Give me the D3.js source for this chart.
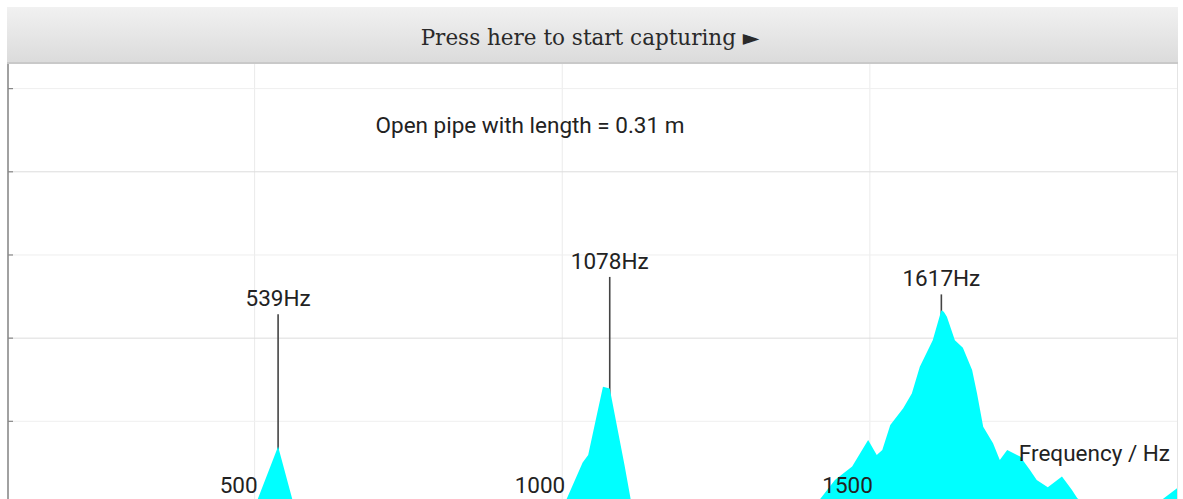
<!DOCTYPE html>
<html>
<head>
<meta charset="utf-8">
<script src="https://cdn.jsdelivr.net/npm/d3@7"></script>
<style>
    html, body { margin: 0; padding: 0; background: #fff; overflow: hidden; }
    svg { display: block; }
    .grid-minor line { stroke: #efefef; stroke-width: 1; }
    .grid-major line { stroke: #dcdcdc; stroke-width: 1; }
    .grid-x line { stroke: #ebebeb; stroke-width: 1; }
    .grid-minor path, .grid-major path, .grid-x path { display: none; }
    .label { font-family: Roboto, sans-serif; fill: #222; }
</style>
</head>
<body>
<svg id="simContainer" width="1183" height="499"></svg>
<script>
/*    ========    SETTINGS    =========    */

var svg = d3.select('#simContainer');
var width = 1183;
var height = 499;

var F_RANGE = [100, 2000];   // frequency axis [Hz]
var A_RANGE = [0, 5.29];     // amplitude, arbitrary units

var TITLE = "Open pipe with length = 0.31 m";
var BUTTON_TEXT = "Press here to start capturing \u25BA";
var X_LABEL = "Frequency / Hz";

var FONT_SIZE = "22.5px";

var xTicks = [500, 1000, 1500];
var yMinorTicks = [1, 3, 5];
var yMajorTicks = [2, 4];

// spectrum
var specFreq = [100, 490, 506, 539, 562, 575, 995, 1008, 1034, 1043, 1057, 1067, 1078,
    1091, 1102, 1112, 1125, 1405, 1420, 1444, 1472, 1498, 1512, 1521, 1534, 1555,
    1569, 1582, 1603, 1617, 1621, 1626, 1639, 1652, 1667, 1675, 1685, 1701, 1712,
    1724, 1745, 1761, 1772, 1790, 1813, 1829, 1838, 1850, 1970, 1977, 2000];
var specAmp = [0, 0, 0.06, 0.69, 0.06, 0, 0, 0.06, 0.5, 0.59, 1.07, 1.41, 1.39,
    0.89, 0.47, 0.06, 0, 0, 0.06, 0.29, 0.45, 0.77, 0.59, 0.65, 0.95, 1.15,
    1.33, 1.65, 1.97, 2.33, 2.31, 2.25, 1.97, 1.88, 1.61, 1.33, 0.93, 0.73, 0.53,
    0.65, 0.57, 0.41, 0.29, 0.2, 0.33, 0.17, 0.07, 0, 0, 0.06, 0.19];

// detected peaks and their held maxima
var peakFreq = [539, 1078, 1617];
var peakHold = [2.28, 2.73, 2.52];

/*    ========    SCALES    =========    */

var PLOT = {left: 8, right: 1177, top: 64};

var scale_x = d3.scaleLinear().domain(F_RANGE).range([PLOT.left, PLOT.right]);
var scale_y = d3.scaleLinear().domain(A_RANGE).range([504, PLOT.top]);

var data = specFreq.map(function(f, i) { return {f: f, a: specAmp[i]}; });

/*    ========    DEFS    =========    */

var defs = svg.append("defs");
var grad = defs.append("linearGradient")
    .attr("id", "btnGrad")
    .attr("x1", 0).attr("y1", 0).attr("x2", 0).attr("y2", 1);
grad.append("stop").attr("offset", "0%").attr("stop-color", "#f1f1f1");
grad.append("stop").attr("offset", "100%").attr("stop-color", "#dbdbdb");

defs.append("clipPath")
    .attr("id", "mask")
    .append("rect")
    .attr("x", PLOT.left)
    .attr("y", PLOT.top)
    .attr("width", PLOT.right - PLOT.left)
    .attr("height", height - PLOT.top);

/*    ========    GRID    =========    */

var plots = svg.append("g").attr("id", "plots").attr("clip-path", "url(#mask)");

plots.append("g")
    .attr("class", "grid-x")
    .attr("transform", "translate(0," + height + ")")
    .call(d3.axisBottom(scale_x).tickValues(xTicks).tickSize(-height).tickFormat(""));

plots.append("g")
    .attr("class", "grid-minor")
    .attr("transform", "translate(" + PLOT.left + ",0)")
    .call(d3.axisRight(scale_y).tickValues(yMinorTicks).tickSize(width).tickFormat(""));

plots.append("g")
    .attr("class", "grid-major")
    .attr("transform", "translate(" + PLOT.left + ",0)")
    .call(d3.axisRight(scale_y).tickValues(yMajorTicks).tickSize(width).tickFormat(""));

// right border
svg.append("line")
    .attr("x1", PLOT.right + 0.5).attr("x2", PLOT.right + 0.5)
    .attr("y1", PLOT.top).attr("y2", height)
    .attr("stroke", "#e4e4e4");

/*    ========    SPECTRUM    =========    */

var area = d3.area()
    .x(function(d) { return scale_x(d.f); })
    .y0(scale_y(0))
    .y1(function(d) { return scale_y(d.a); });

// peak hold lines
var amp = d3.scaleLinear().domain(specFreq).range(specAmp);
peakFreq.forEach(function(f, i) {
    plots.append("line")
        .attr("x1", scale_x(f)).attr("x2", scale_x(f))
        .attr("y1", scale_y(peakHold[i]))
        .attr("y2", scale_y(amp(f)) + 8)
        .attr("stroke", "#444")
        .attr("stroke-width", 1.6);
});

plots.append("path")
    .datum(data)
    .attr("fill", "#00ffff")
    .attr("d", area);

peakFreq.forEach(function(f, i) {
    svg.append("text")
        .attr("class", "label")
        .attr("x", scale_x(f))
        .attr("y", scale_y(peakHold[i]) - 8)
        .attr("text-anchor", "middle")
        .style("font-size", FONT_SIZE)
        .text(f + "Hz");
});

/*    ========    AXES    =========    */

// left axis with short inner ticks
var axisLeft = svg.append("g")
    .attr("transform", "translate(" + PLOT.left + ",0)")
    .call(d3.axisRight(scale_y).tickValues(yMinorTicks.concat(yMajorTicks)).tickSize(5).tickFormat("")
        .tickSizeOuter(0));
axisLeft.select(".domain").remove();
axisLeft.selectAll("line").attr("stroke", "#888").attr("stroke-width", 1.2);

svg.append("line")
    .attr("x1", PLOT.left).attr("x2", PLOT.left)
    .attr("y1", PLOT.top).attr("y2", height)
    .attr("stroke", "#8a8a8a").attr("stroke-width", 1.6);

var axisBottom = svg.append("g")
    .attr("transform", "translate(0,493)")
    .call(d3.axisTop(scale_x).tickValues(xTicks).tickSize(0).tickPadding(0).tickFormat(d3.format("d")));
axisBottom.select(".domain").remove();
axisBottom.selectAll("text")
    .attr("class", "label")
    .attr("text-anchor", "end")
    .attr("dx", 3)
    .attr("dy", 0)
    .style("font-size", FONT_SIZE)
    .style("font-family", "Roboto, sans-serif")
    .attr("fill", "#222");

svg.append("text")
    .attr("class", "label")
    .attr("x", 1170)
    .attr("y", 461)
    .attr("text-anchor", "end")
    .style("font-size", FONT_SIZE)
    .text(X_LABEL);

svg.append("text")
    .attr("class", "label")
    .attr("x", 530)
    .attr("y", 133)
    .attr("text-anchor", "middle")
    .style("font-size", FONT_SIZE)
    .text(TITLE);

/*    ========    BUTTON    =========    */

svg.append("rect")
    .attr("x", 7).attr("y", 7)
    .attr("width", 1171).attr("height", 56)
    .attr("fill", "url(#btnGrad)");
svg.append("line")
    .attr("x1", 7).attr("x2", 1178)
    .attr("y1", 63).attr("y2", 63)
    .attr("stroke", "#c9c9c9").attr("stroke-width", 2);

svg.append("text")
    .attr("x", 590)
    .attr("y", 45)
    .attr("text-anchor", "middle")
    .style("font-family", "'DejaVu Serif', serif")
    .style("font-size", "21.5px")
    .attr("fill", "#2a2a2a")
    .text(BUTTON_TEXT);
</script>
</body>
</html>
